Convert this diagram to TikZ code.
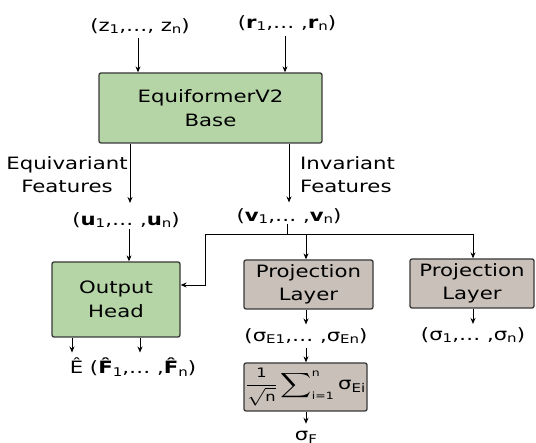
\documentclass[tikz,border=0pt]{standalone}
\usepackage{exscale}
\usepackage{fontspec}
\setmainfont{DejaVu Sans}
\usepackage{graphicx}
\usetikzlibrary{arrows.meta}
\definecolor{basegreen}{HTML}{B5D5A7}
\definecolor{layergray}{HTML}{C8C0B9}
\definecolor{boxedge}{HTML}{383838}
% text is set slightly stretched horizontally
\newcommand\wide[1]{\scalebox{1.25}[1]{#1}}
\newcommand\idx[1]{\raisebox{-0.3ex}{\fontsize{12}{12}\selectfont #1}}
\newcommand\mainfs{\fontsize{17}{23.5}\selectfont}
\newcommand\smallfs{\fontsize{13}{13}\selectfont}
\newcommand\tinyfs{\fontsize{10}{10}\selectfont}
\begin{document}
\begin{tikzpicture}[x=1pt,y=-1pt,
  lbl/.style={font=\mainfs, inner sep=0pt, align=center},
  blk/.style={draw=boxedge, line width=1.3pt, rounded corners=2pt, font=\mainfs, align=center, inner sep=0pt},
  greenblk/.style={blk, fill=basegreen},
  grayblk/.style={blk, fill=layergray},
  arr/.style={-{Stealth[length=6pt,width=5pt]}, line width=0.9pt},
  wire/.style={line width=0.9pt}]
\useasboundingbox (0,0) rectangle (536,443);

% column positions of the vertical connectors
\coordinate (cz) at (138,0);
\coordinate (cr) at (285,0);
\coordinate (cl) at (130,0);
\coordinate (cri) at (289,0);
\coordinate (cu) at (129,0);
\coordinate (cbr) at (205,0);
\coordinate (cp1) at (306,0);
\coordinate (cp2) at (473,0);
\coordinate (ch1) at (72,0);
\coordinate (ch2) at (140,0);
\coordinate (hin) at (0,285);
\coordinate (split) at (287,234);

% inputs
\node[lbl] (z) at (140,26) {\wide{(z\idx{1},…, z\idx{n})}};
\node[lbl] (r) at (287,23) {\wide{(\textbf{r}\idx{1},… ,\textbf{r}\idx{n})}};

% backbone
\node[greenblk, minimum width=223pt, minimum height=70pt] (base) at (210.5,108) {\wide{EquiformerV2}\\\wide{Base}};

% feature labels
\node[lbl] (eqf) at (67,174.5) {\wide{Equivariant}\\\wide{Features}};
\node[lbl, anchor=west, align=left] (invf) at (300,174.5) {\wide{Invariant}\\\wide{Features}};
\node[lbl] (u) at (126,220) {\wide{(\textbf{u}\idx{1},… ,\textbf{u}\idx{n})}};
\node[lbl] (v) at (289,216) {\wide{(\textbf{v}\idx{1},… ,\textbf{v}\idx{n})}};

% heads
\node[greenblk, minimum width=128pt, minimum height=75pt] (head) at (116,299.5) {\wide{Output}\\\wide{Head}};
\node[grayblk, minimum width=129pt, minimum height=49pt] (proj1) at (308.5,284.5) {\wide{Projection}\\\wide{Layer}};
\node[grayblk, minimum width=124pt, minimum height=49pt] (proj2) at (472,283.5) {\wide{Projection}\\\wide{Layer}};

% outputs
\node[lbl] (out) at (133,367) {\wide{Ê (\textbf{F̂}\idx{1},… ,\textbf{F̂}\idx{n})}};
\node[lbl] (sE) at (306,336) {\wide{(σ\idx{E1},… ,σ\idx{En})}};
\node[grayblk, minimum width=123pt, minimum height=48pt] (agg) at (305.5,387)
  {\wide{$\displaystyle\frac{\mbox{\smallfs 1}}{\sqrt{\mbox{\smallfs n}}}\sum\nolimits_{\mbox{\tinyfs i=1}}^{\mbox{\tinyfs n}}\mbox{σ\idx{Ei}}$}};
\node[lbl] (sF) at (306,437) {\wide{σ\idx{F}}};
\node[lbl] (s) at (473,335) {\wide{(σ\idx{1},… ,σ\idx{n})}};

% connectors
\draw[arr, shorten <=3.5pt] (z.south -| cz) -- (base.north -| cz);
\draw[arr, shorten <=4.5pt] (r.south -| cr) -- (base.north -| cr);
\draw[arr, shorten >=9pt] (base.south -| cl) -- (u.north -| cl);
\draw[arr, shorten >=5.5pt] (base.south -| cri) -- (v.north -| cri);
\draw[arr, shorten <=1pt] (u.south -| cu) -- (head.north -| cu);
\draw[wire] (v.south -| split) -- (split);
\draw[arr] (split) -| (proj1.north -| cp1);
\draw[arr] (split) -| (proj2.north -| cp2);
\draw[arr] (split) -- (split -| cbr) |- (head.east |- hin);
\draw[arr, shorten >=5pt] (head.south -| ch1) -- (out.north -| ch1);
\draw[arr, shorten >=5pt] (head.south -| ch2) -- (out.north -| ch2);
\draw[arr, shorten >=3.5pt] (proj1.south -| cp1) -- (sE.north -| cp1);
\draw[arr, shorten <=3.5pt] (sE.south -| cp1) -- (agg.north -| cp1);
\draw[arr, shorten >=7pt] (agg.south -| cp1) -- (sF.north -| cp1);
\draw[arr, shorten >=3pt] (proj2.south -| cp2) -- (s.north -| cp2);
\end{tikzpicture}
\end{document}
